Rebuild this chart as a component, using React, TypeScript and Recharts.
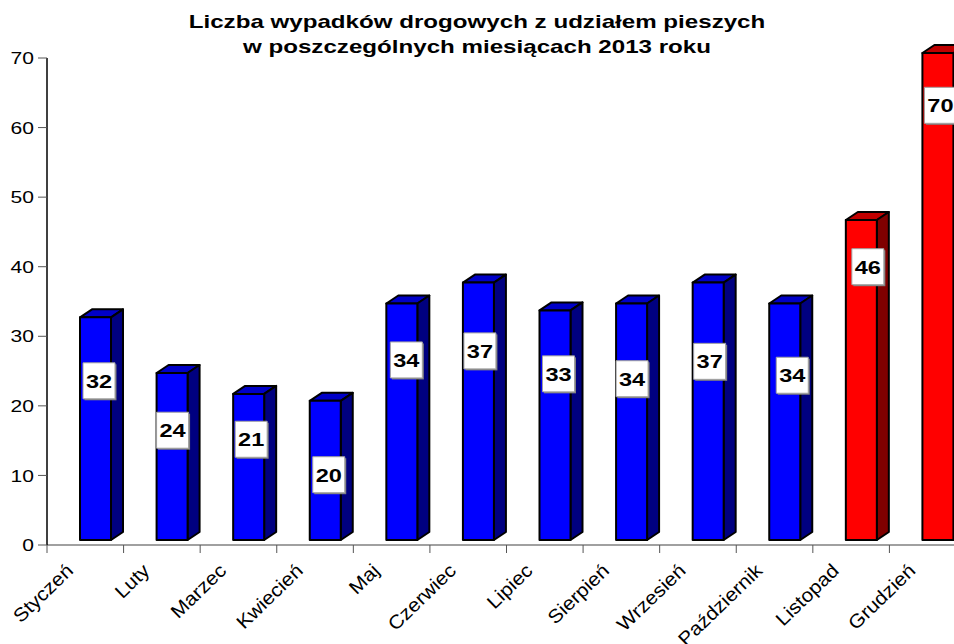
import { BarChart, Bar, XAxis, YAxis } from 'recharts'

const months = ['Styczeń', 'Luty', 'Marzec', 'Kwiecień', 'Maj', 'Czerwiec', 'Lipiec', 'Sierpień', 'Wrzesień', 'Październik', 'Listopad', 'Grudzień']
const accidents = [32, 24, 21, 20, 34, 37, 33, 34, 37, 34, 46, 70]
const highlighted = ['Listopad', 'Grudzień']
const yTicks = [0, 10, 20, 30, 40, 50, 60, 70]
const titleLines = ['Liczba wypadków drogowych z udziałem pieszych', 'w poszczególnych miesiącach 2013 roku']

// where the value boxes sit on each bar (value units) and their nudge right (px)
const labelAt = [23.6, 16.5, 15.2, 10.1, 26.6, 27.9, 24.6, 23.9, 26.4, 24.4, 40.0, 63.2]
const labelDx = [3, 0, 2, 3, 4, 1, 3, 0, 1, 7, 6, 2]

const FONT = '"Liberation Sans", Arial, sans-serif'
const SX = 1.24 // the original picture is stretched sideways
const W = 976
const H = 644
const M = { top: 58, right: 10, left: 0, bottom: 0 }
const Y_W = 47
const X_H = 99
const PLOT_BOTTOM = H - X_H
const BAND = (W - M.right - Y_W) / months.length
const DX = 12
const DY = 8
const LIFT = 5

const data = months.map((month, i) => ({ month, value: accidents[i] }))

const Bar3D = (props: any) => {
    const { x, y, width, height, index } = props
    const value = accidents[index]
    const red = highlighted.includes(months[index])
    const front = red ? '#ff0000' : '#0000ff'
    const top = red ? '#c00000' : '#0000c8'
    const side = red ? '#800000' : '#000080'
    const x0 = x + 10
    const x1 = x0 + width
    const t = y - LIFT
    const b = y + height - LIFT
    const k = height / value
    const cy = y + height - labelAt[index] * k
    const bx = x0 + labelDx[index]
    return (
        <g stroke="#000" strokeWidth={2} strokeLinejoin="round">
            <polygon points={`${x0},${t} ${x0 + DX},${t - DY} ${x1 + DX},${t - DY} ${x1},${t}`} fill={top} />
            <polygon points={`${x1},${t} ${x1 + DX},${t - DY} ${x1 + DX},${b - DY} ${x1},${b}`} fill={side} />
            <rect x={x0} y={t} width={width} height={b - t} fill={front} />
            <rect x={bx + 1.5} y={cy - 18 + 1.5} width={32} height={36} fill="#808080" stroke="none" />
            <rect x={bx} y={cy - 18} width={32} height={36} fill="#fff" stroke="#a0a0a0" strokeWidth={1} />
            <text
                transform={`translate(${bx + 16},${cy}) scale(${SX},1)`}
                textAnchor="middle"
                dy="0.36em"
                fontSize={19}
                fontWeight="bold"
                fontFamily={FONT}
                fill="#000"
                stroke="none"
            >
                {value}
            </text>
        </g>
    )
}

const MonthTick = ({ x, payload }: any) => (
    <g>
        <line x1={x - BAND / 2} x2={x - BAND / 2} y1={PLOT_BOTTOM} y2={PLOT_BOTTOM + 8} stroke="#555" />
        <text
            transform={`translate(${x - 11},${PLOT_BOTTOM + 27}) rotate(-44) scale(1.1,1)`}
            textAnchor="end"
            fontSize={19}
            fontFamily={FONT}
            fill="#000"
        >
            {payload.value}
        </text>
    </g>
)

const ValueTick = ({ y, payload }: any) => (
    <text
        transform={`translate(34,${y}) scale(${SX},1)`}
        textAnchor="end"
        dy="0.36em"
        fontSize={17}
        fontFamily={FONT}
        fill="#000"
    >
        {payload.value}
    </text>
)

export default function App() {
    return (
        <div style={{ position: 'absolute', left: 0, top: 0, width: 954, height: 644, overflow: 'hidden', background: '#fff' }}>
            <div
                style={{
                    position: 'absolute',
                    left: 0,
                    top: 9,
                    width: 954,
                    textAlign: 'center',
                    fontFamily: FONT,
                    fontWeight: 'bold',
                    fontSize: 19,
                    lineHeight: '25px',
                    transform: 'scaleX(1.27)',
                    transformOrigin: '477px 0'
                }}
            >
                {titleLines.map(l => <div key={l}>{l}</div>)}
            </div>
            <BarChart width={W} height={H} data={data} margin={M}>
                <XAxis
                    dataKey="month"
                    interval={0}
                    height={X_H}
                    tickLine={false}
                    axisLine={{ stroke: '#808080', strokeWidth: 1.5 }}
                    tick={<MonthTick />}
                />
                <YAxis
                    width={Y_W}
                    domain={[0, 70]}
                    ticks={yTicks}
                    tickSize={9}
                    tickLine={{ stroke: '#555' }}
                    axisLine={{ stroke: '#000', strokeWidth: 1.5 }}
                    tick={<ValueTick />}
                />
                <Bar dataKey="value" barSize={31} shape={<Bar3D />} isAnimationActive={false} />
            </BarChart>
        </div>
    )
}
